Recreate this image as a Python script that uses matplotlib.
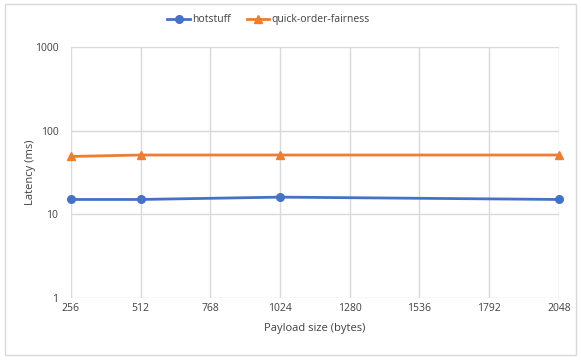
import matplotlib
matplotlib.use("Agg")
import matplotlib.pyplot as plt
from matplotlib.patches import Rectangle
from matplotlib.ticker import FixedLocator, NullLocator

payload = [256, 512, 1024, 2048]
hotstuff = [15, 15, 16, 15]
quick_order_fairness = [49, 51, 51, 51]
x_ticks = [256, 512, 768, 1024, 1280, 1536, 1792, 2048]
y_ticks = [1, 10, 100, 1000]

plt.rcParams["font.family"] = ["Open Sans", "DejaVu Sans"]
fig = plt.figure(figsize=(5.81, 3.61), dpi=100)
fig.patches.append(Rectangle((0.009, 0.017), 0.982, 0.972, transform=fig.transFigure,
                             fill=False, edgecolor="#d9d9d9", linewidth=1))
ax = fig.add_axes([0.122, 0.175, 0.840, 0.695])

grid_c = "#d9d9d9"
ax.plot(payload, hotstuff, color="#4472C4", marker="o", markersize=5.5,
        linewidth=2, label="hotstuff", clip_on=False, zorder=3)
ax.plot(payload, quick_order_fairness, color="#ED7D31", marker="^", markersize=6,
        linewidth=2, label="quick-order-fairness", clip_on=False, zorder=3)

ax.set_yscale("log")
ax.set_xlim(256, 2048)
ax.set_ylim(1, 1000)
ax.xaxis.set_major_locator(FixedLocator(x_ticks))
ax.yaxis.set_major_locator(FixedLocator(y_ticks))
ax.yaxis.set_minor_locator(NullLocator())
ax.set_xticklabels([str(v) for v in x_ticks])
ax.set_yticklabels([str(v) for v in y_ticks])
ax.grid(True, color=grid_c, linewidth=1)
for s in ax.spines.values():
    s.set_visible(False)
ax.tick_params(length=0, labelsize=7.5, colors="#404040")
ax.tick_params(axis="x", pad=4)
ax.tick_params(axis="y", pad=9)
ax.set_xlabel("Payload size (bytes)", fontsize=8, color="#404040", labelpad=6)
ax.set_ylabel("Latency (ms)", fontsize=8, color="#404040", labelpad=-1)

ax.legend(loc="center", bbox_to_anchor=(0.405, 1.108), ncol=2, frameon=False,
          fontsize=7.5, handlelength=2.2, columnspacing=1.5, handletextpad=0.2,
          labelcolor="#404040")

fig.savefig("out.png", dpi=100)
